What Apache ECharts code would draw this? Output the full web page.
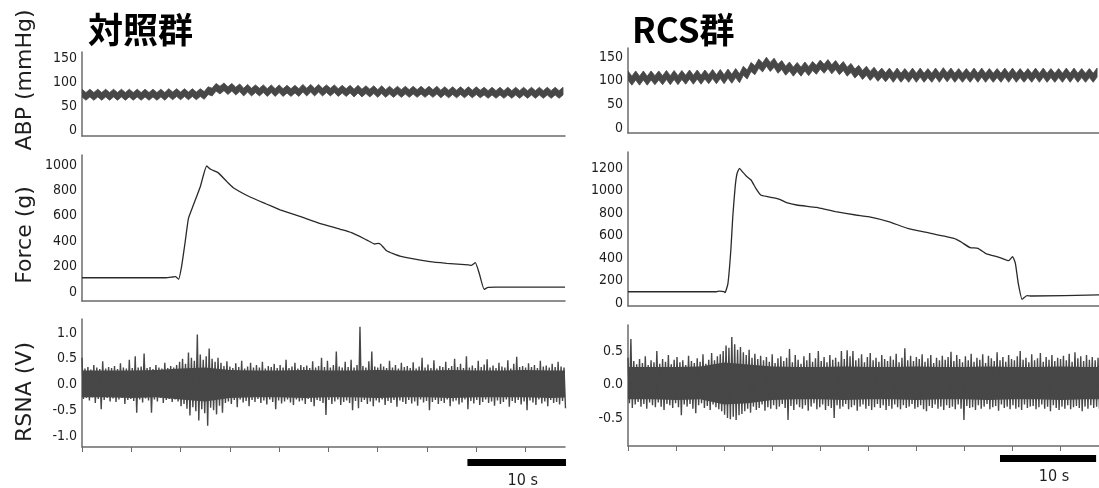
<!DOCTYPE html>
<html><head><meta charset="utf-8">
<script src="https://cdn.jsdelivr.net/npm/echarts@6/dist/echarts.min.js"></script>
<style>html,body{margin:0;padding:0;background:#fff}#c{width:1099px;height:488px}</style>
</head><body><div id="c"></div>
<script>
// ---------------- data ----------------
const groupTitles = ['対照群', 'RCS群'];
const yNames = ['ABP (mmHg)', 'Force (g)', 'RSNA (V)'];

// ABP (mmHg): mid-pressure sampled every 0.4 s (respiratory peaks / troughs), and pulse pressure of the band
const abpStep = 0.4;
const abpL = [77,70,77,70,77,70,77,70,77,70, 77,70,77,70,77,70,77,70,77,70, 77,70,78,71,78,71,78,71,78,71, 78,
  72,82,79,89,83,90,82,89,81,88,
  79,87,79,86,79,86,78,86,78,86, 78,85,78,85,78,
  87,79,87,79,87,79,86,79,86,
  78,85,78,85,77,85,77,84,77,84, 76,84,76,83,76,83,76,83,76,83, 76,83,76,83,76,83,
  75,82,75,82,75,82,75,82,75,82, 75,81,74,81,74,81,74,81,74,81, 74,81,74,81,74,81,74,81,74,81, 74,81];
const abpR = [111,100,111,100,111,100,111,101,111,101, 112,101,112,101,112,102,113,102,113,102, 113,103,114,103,114,103,115,104,116,105,
  121,113,129,122,136,128,140,129,
  138,125,133,121,130,119,129,119,130,120,
  131,123,134,125,135,124,133,122,
  131,119,127,115,123,112,121,110,119,108,117,107,
  117,106,117,106,116,106,117,106,117,106, 116,106,117,106,118,107,117,106,116,106,
  116,106,117,106,117,106,116,106,116,106, 117,106,117,106,116,106,116,106,117,106,
  117,106,116,106,116,106,117,106,117,106, 116,106,116,106,117];
const abpPulseL = 16;
const abpPulseR = 19;

// Force (g): time (s) / value
const forceTL = [0,5,8.5,9.2,9.5,9.8,10.1,10.45,10.8,11.3,12.0,12.65,13.05,13.8,14.7,15.35,17.0,18.7,19.75,20.1,22.1,24.1,26.2,27.35,28.9,29.7,30.05,30.3,30.9,32.25,35.3,37.0,39.2,39.5,39.9,40.3,40.8,41.2,42,49];
const forceVL = [112,112,112,118,121,100,199,385,580,685,829,992,966,940,869,821,750,693,659,646,595,541,494,467,409,378,383,375,325,283,239,226,213,210,231,147,21,37,38,38];
const forceTR = [0,9.2,9.5,10.0,10.1,10.4,10.7,10.9,11.15,11.35,11.6,11.9,12.3,12.8,13.3,13.8,14.5,15.7,16.5,17.55,19.6,20.3,21.6,23.7,25.0,27.1,29.1,31.2,33.9,34.6,35.6,36.4,37.3,38.6,39.6,40.0,40.3,40.6,41.0,41.5,42,49];
const forceVR = [100,100,106,100,92,175,471,767,1034,1153,1197,1167,1129,1093,1019,960,945,924,892,871,850,836,812,782,767,723,664,625,575,545,492,486,436,406,376,412,353,175,33,65,62,72];

// RSNA (1/100 V): upper / lower excursion in each 0.3 s sample
const rsnaStep = 0.3;
const rsnaHiL = [52,31,34,29,38,33,30,45,31,34, 32,36,30,41,33,31,48,32,55,33, 35,60,32,34,30,38,33,31,42,32,
  36,33,38,44,50,40,62,52,46,97, 58,48,55,70,50,44,52,42,36,45, 35,32,41,34,46,31,35,42,33,38,
  33,44,31,36,34,40,32,38,33,48, 32,35,42,31,38,34,37,32,45,33, 36,52,34,46,33,38,64,35,33,44,
  34,48,33,38,112,36,33,45,64,35, 33,40,35,32,46,33,38,31,42,34, 36,32,43,31,35,52,33,39,32,47,
  31,36,34,44,32,36,50,34,40,32, 55,33,37,32,46,34,39,49,33,37, 32,42,35,33,47,31,40,54,34,36,
  33,41,34,38,32,46,35,37,33,40, 34,44,35,33];
const rsnaLoL = [-28,-26,-31,-25,-36,-28,-48,-30,-26,-33, -27,-34,-29,-26,-38,-30,-28,-32,-55,-29, -35,-27,-31,-55,-29,-33,-26,-36,-30,-28,
  -34,-29,-33,-42,-38,-47,-60,-44,-52,-70, -48,-56,-80,-45,-50,-58,-41,-55,-36,-33, -38,-30,-44,-29,-35,-32,-42,-30,-34,-28,
  -36,-31,-39,-29,-34,-48,-31,-37,-33,-29, -35,-40,-29,-33,-31,-38,-28,-34,-42,-30, -32,-36,-59,-30,-38,-33,-29,-40,-34,-31,
  -36,-50,-32,-46,-34,-30,-38,-33,-42,-31, -35,-29,-40,-32,-36,-30,-43,-31,-34,-38, -30,-37,-33,-41,-29,-35,-32,-50,-34,-30,
  -38,-32,-36,-29,-42,-33,-31,-39,-35,-29, -48,-32,-37,-30,-40,-34,-29,-36,-33,-41, -31,-38,-34,-29,-43,-32,-36,-30,-39,-33,
  -50,-31,-35,-40,-29,-37,-33,-42,-30,-36, -34,-39,-32,-46];
const rsnaHiR = [40,68,35,30,38,32,42,29,36,33, 50,31,38,34,44,30,37,41,33,36, 29,43,35,32,39,34,45,31,37,47,
  36,42,45,50,58,55,71,60,52,56, 48,44,52,40,46,38,43,36,41,34, 45,32,39,42,35,40,53,33,44,37,
  31,42,36,47,34,39,50,35,41,33, 44,37,40,34,50,38,51,42,50,36, 39,45,33,41,47,36,40,34,44,38,
  35,42,37,46,33,40,54,36,43,35, 41,38,45,34,39,44,32,40,36,43, 37,41,49,35,44,38,33,42,36,46,
  34,40,37,45,32,43,39,35,48,36, 41,34,44,38,36,42,50,37,40,33, 45,36,39,47,34,41,37,44,35,40,
  38,43,36,46,34,48,39,42,35,44, 37,41,36,40];
const rsnaLoR = [-28,-35,-30,-26,-33,-29,-36,-27,-31,-34, -27,-33,-38,-29,-31,-35,-28,-34,-46,-30, -33,-29,-36,-43,-31,-28,-35,-32,-38,-30,
  -34,-37,-40,-45,-50,-52,-48,-53,-46,-44, -40,-36,-42,-33,-38,-35,-30,-39,-34,-36, -31,-37,-33,-29,-35,-53,-32,-38,-30,-34,
  -36,-31,-39,-33,-28,-37,-34,-30,-38,-32, -35,-50,-31,-36,-33,-29,-37,-34,-31,-39, -33,-30,-36,-32,-38,-34,-29,-35,-31,-38,
  -32,-36,-30,-34,-37,-31,-35,-33,-29,-36, -34,-31,-37,-40,-32,-35,-30,-36,-33,-38, -31,-35,-33,-37,-30,-36,-53,-32,-35,-34,
  -38,-31,-36,-33,-29,-37,-34,-32,-39,-30, -35,-33,-37,-31,-36,-34,-38,-30,-35,-33, -32,-37,-34,-30,-36,-33,-40,-31,-35,-38,
  -33,-36,-31,-37,-34,-32,-35,-40,-33,-36, -31,-35,-33,-37];
// dense core of the RSNA band (1/100 V), every 2.5 s
const coreStep = 2.5;
const coreHiL = [27,27,27,28,31,33,28,27,27,28,27,27,28,27,27,28,27,27,28,27,27];
const coreLoL = [-25,-25,-26,-25,-29,-33,-26,-25,-25,-26,-25,-25,-26,-25,-25,-26,-25,-25,-25,-26,-25];
const coreHiR = [26,26,26,27,33,30,27,26,26,27,26,26,27,26,26,27,26,26,27,26,26];
const coreLoR = [-22,-22,-23,-22,-30,-28,-23,-22,-22,-23,-22,-22,-23,-22,-22,-23,-22,-22,-23,-22,-22];

// tick labels
const abpTicks = [0, 50, 100, 150];
const forceTicksL = [0, 200, 400, 600, 800, 1000];
const forceTicksR = [0, 200, 400, 600, 800, 1000, 1200];
const rsnaTicksL = [-1.0, -0.5, 0.0, 0.5, 1.0];
const rsnaTicksR = [-0.5, 0.0, 0.5];
const timeMajor = [0, 5, 10, 15, 20, 25, 30, 35, 40, 45];
const timeMinor = [2.5, 7.5, 12.5, 17.5, 22.5, 27.5, 32.5, 37.5, 42.5];
const scaleBarLabel = '10 s';
const scaleBarLen = 10;
const scaleBarStart = [39.1, 38.7];

// ---------------- chart ----------------
const tickFont = '"DejaVu Sans Condensed", "DejaVu Sans", sans-serif';
const axisColor = '#6b6b6b';
const traceColor = '#474747';

const grids = [
  {left: 82, width: 483, top: 52, height: 84},
  {left: 82, width: 483, top: 155, height: 146},
  {left: 82, width: 483, top: 319, height: 128},
  {left: 628, width: 480, top: 48, height: 85},
  {left: 628, width: 480, top: 152, height: 154},
  {left: 628, width: 480, top: 325, height: 121}
];
const yRanges = [[-12.5, 162.5], [-70.9, 1078.7], [-1.214, 1.272], [-10.56, 169], [-26.7, 1342], [-0.918, 0.888]];
const yTicks = [abpTicks, forceTicksL, rsnaTicksL, abpTicks, forceTicksR, rsnaTicksR];

const xAxes = [], yAxes = [];
grids.forEach((g, i) => {
  const isRsna = (i % 3) === 2;
  xAxes.push({
    type: 'value', gridIndex: i, min: 0, max: 49, position: 'bottom',
    axisLine: {show: true, onZero: false, lineStyle: {color: axisColor, width: 1.5}},
    axisTick: isRsna ? {show: true, customValues: timeMajor, length: 5, lineStyle: {color: axisColor, width: 1}} : {show: false},
    axisLabel: {show: false}, splitLine: {show: false}
  });
  yAxes.push({
    type: 'value', gridIndex: i, min: yRanges[i][0], max: yRanges[i][1],
    axisLine: {show: true, onZero: false, lineStyle: {color: axisColor, width: 1.5}},
    axisTick: {show: false}, splitLine: {show: false},
    axisLabel: {
      show: true, customValues: yTicks[i], margin: 5, color: '#1e1e1e', fontSize: 14, fontFamily: tickFont,
      formatter: v => isRsna ? v.toFixed(1) : String(v)
    }
  });
});
// minor time ticks on RSNA panels
[2, 5].forEach(gi => {
  xAxes.push({
    type: 'value', gridIndex: gi, min: 0, max: 49, position: 'bottom',
    axisLine: {show: false}, axisLabel: {show: false}, splitLine: {show: false},
    axisTick: {show: true, customValues: timeMinor, length: 3, lineStyle: {color: axisColor, width: 1}}
  });
});

// ABP band: systolic edge above, diastolic edge below the mid-pressure trace
function abpSeries(arr, pulse, idx) {
  return {type: 'custom', coordinateSystem: 'cartesian2d', xAxisIndex: idx, yAxisIndex: idx, animation: false, silent: true,
    clip: true, data: [[0, 0]],
    renderItem: function (params, api) {
      const pts = [];
      arr.forEach((v, i) => pts.push(api.coord([i * abpStep, v + pulse / 2])));
      for (let i = arr.length - 1; i >= 0; i--) pts.push(api.coord([i * abpStep, arr[i] - pulse / 2]));
      return {type: 'polygon', shape: {points: pts}, style: {fill: traceColor, stroke: traceColor, lineWidth: 0.8, lineJoin: 'round'}};
    }};
}
function forceSeries(ts, vs, idx) {
  return {type: 'line', xAxisIndex: idx, yAxisIndex: idx, symbol: 'none', animation: false, silent: true,
    data: ts.map((t, i) => [t, vs[i]]), smooth: 0.15,
    lineStyle: {color: '#2a2a2a', width: 1.3}};
}
function rsnaSeries(hi, lo, idx) {
  const d = [];
  hi.forEach((h, i) => {
    d.push([i * rsnaStep, h / 100]);
    d.push([i * rsnaStep + rsnaStep / 2, lo[i] / 100]);
  });
  return {type: 'line', xAxisIndex: idx, yAxisIndex: idx, symbol: 'none', animation: false, silent: true,
    data: d, lineStyle: {color: traceColor, width: 1.4}};
}
function coreSeries(hi, lo, idx) {
  return {type: 'custom', coordinateSystem: 'cartesian2d', xAxisIndex: idx, yAxisIndex: idx, animation: false, silent: true,
    clip: true, data: [[0, 0]],
    renderItem: function (params, api) {
      const pts = [];
      hi.forEach((v, i) => pts.push(api.coord([i * coreStep, v / 100])));
      for (let i = lo.length - 1; i >= 0; i--) pts.push(api.coord([i * coreStep, lo[i] / 100]));
      return {type: 'polygon', shape: {points: pts}, style: {fill: traceColor}};
    }};
}

const option = {
  animation: false,
  backgroundColor: '#ffffff',
  grid: grids,
  xAxis: xAxes,
  yAxis: yAxes,
  series: [
    abpSeries(abpL, abpPulseL, 0), forceSeries(forceTL, forceVL, 1), coreSeries(coreHiL, coreLoL, 2), rsnaSeries(rsnaHiL, rsnaLoL, 2),
    abpSeries(abpR, abpPulseR, 3), forceSeries(forceTR, forceVR, 4), coreSeries(coreHiR, coreLoR, 5), rsnaSeries(rsnaHiR, rsnaLoR, 5)
  ]
};

const chart = echarts.init(document.getElementById('c'), null, {renderer: 'canvas'});
chart.setOption(option);

const nameFont = '"DejaVu Sans", sans-serif';
const graphics = [
  {type: 'text', left: 88, top: 12, style: {text: groupTitles[0], font: 'bold 35px "Noto Sans CJK JP"', fill: '#000'}},
  {type: 'text', left: 632, top: 12, style: {text: groupTitles[1], font: 'bold 35px "Noto Sans CJK JP"', fill: '#000'}}
];
const namePos = [80, 235, 392];
yNames.forEach((n, i) => {
  graphics.push({type: 'text', x: 25, y: namePos[i], rotation: Math.PI / 2,
    style: {text: n, font: '22px ' + nameFont, fill: '#1e1e1e', align: 'center', verticalAlign: 'middle'}});
});
const barY = [459, 455];
const labY = [481, 477];
[2, 5].forEach((ax, k) => {
  const x0 = chart.convertToPixel({xAxisIndex: ax}, scaleBarStart[k]);
  const x1 = chart.convertToPixel({xAxisIndex: ax}, scaleBarStart[k] + scaleBarLen);
  graphics.push({type: 'rect', shape: {x: x0, y: barY[k], width: x1 - x0, height: 7}, style: {fill: '#000'}});
  graphics.push({type: 'text', x: (x0 + x1) / 2 + 6, y: labY[k],
    style: {text: scaleBarLabel, font: '16px ' + tickFont, fill: '#1e1e1e', align: 'center', verticalAlign: 'middle'}});
});
chart.setOption({graphic: graphics});
</script>
</body></html>
